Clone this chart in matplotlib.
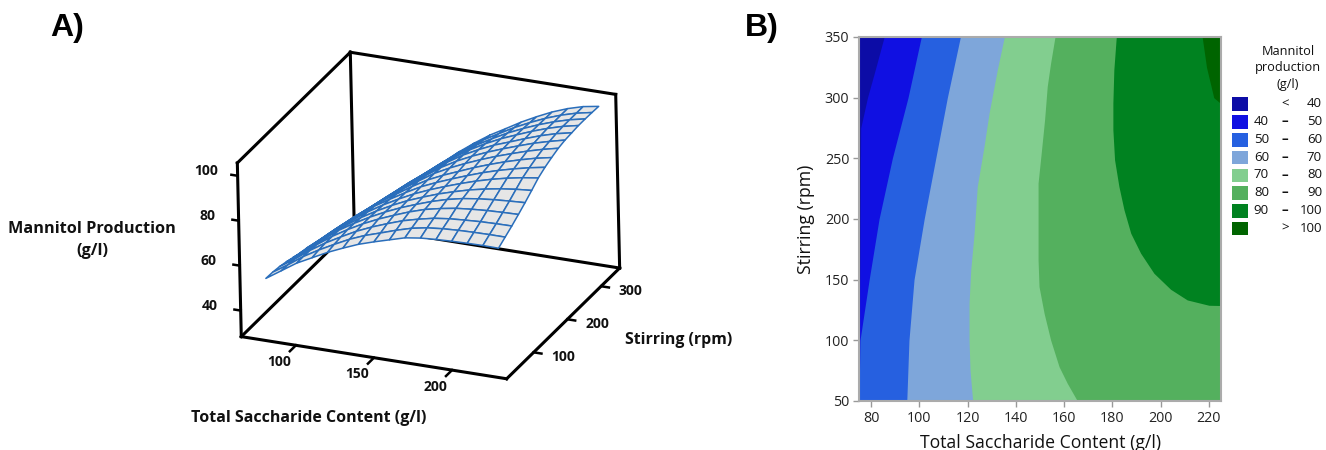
import numpy as np
import matplotlib
matplotlib.use("Agg")
import matplotlib.pyplot as plt
from matplotlib.patches import Rectangle
from mpl_toolkits.mplot3d import proj3d

W, H = 1326, 450

# --- panel A: response surface ---
sacch = [75, 85, 95, 105, 115, 125, 135, 145, 155, 165, 175, 185, 195, 205, 215, 225]
stir = [50, 70, 90, 110, 130, 150, 170, 190, 210, 230, 250, 270, 290, 310, 330, 350]
prod_50 = [51, 55.5, 60, 63.5, 67, 70, 72.8, 75, 77, 79, 80, 80.5, 80.8, 81, 81.1, 81]
prod_70 = [50.8, 55.2, 60, 64, 67.6, 71, 73.8, 76, 78.3, 80.3, 81.6, 82.3, 82.7, 82.9, 83, 83]
prod_90 = [50.3, 54.8, 59.8, 64.2, 68, 71.6, 74.6, 77.2, 79.6, 81.4, 82.9, 83.8, 84.3, 84.7, 84.9, 85]
prod_110 = [49.5, 54.2, 59.4, 64.2, 68.3, 72, 75.2, 78, 80.6, 82.8, 84.3, 85.5, 86.2, 86.7, 87, 87.2]
prod_130 = [48.5, 53.6, 58.8, 64, 68.2, 72, 75.4, 78.4, 81, 83.4, 85.4, 86.9, 87.9, 88.6, 89.1, 89.5]
prod_150 = [47.5, 52.9, 58, 63.2, 67.8, 71.8, 75.4, 78.6, 81.3, 83.8, 85.9, 87.8, 89.3, 90.5, 91.4, 92]
prod_170 = [46.8, 52.2, 57.4, 62.6, 67.4, 71.6, 75.3, 78.7, 81.6, 84.2, 86.6, 88.8, 90.7, 92.3, 93.6, 94.6]
prod_190 = [45.7, 51.4, 56.8, 62, 67, 71.2, 75.2, 78.9, 81.9, 84.6, 87.2, 89.6, 91.7, 93.5, 95.1, 96.4]
prod_210 = [44.6, 50.5, 56, 61.2, 66.2, 70.6, 75, 79, 82.2, 85, 87.8, 90.3, 92.6, 94.6, 96.4, 97.8]
prod_230 = [43.5, 49.5, 55, 60.2, 65.4, 70, 74.6, 79, 82.5, 85.6, 88.4, 91, 93.3, 95.5, 97.4, 99]
prod_250 = [42, 48, 53.8, 59.2, 64.5, 69.2, 74, 78.7, 82.6, 85.9, 88.8, 91.4, 93.8, 96.1, 98, 99.7]
prod_270 = [40.7, 46.8, 52.6, 58.2, 63.6, 68.4, 73.2, 78.2, 82.4, 85.9, 89, 91.5, 94.1, 96.5, 98.5, 100]
prod_290 = [39.5, 45.5, 51.2, 57, 62.6, 67.6, 72.4, 77.4, 81.8, 85.6, 88.9, 91.7, 94.4, 96.8, 98.8, 100.3]
prod_310 = [38, 44, 50, 55.8, 61.4, 66.6, 71.6, 76.6, 81, 84.9, 88.5, 91.6, 94.4, 96.8, 98.8, 100.3]
prod_330 = [37, 42.3, 48.4, 54.5, 60.2, 65.6, 70.8, 75.8, 80.3, 84.2, 88, 91.3, 94.3, 96.8, 98.8, 100.2]
prod_350 = [35.5, 40.3, 46.5, 53, 59, 64.5, 70, 75, 79.6, 83.5, 87.5, 91, 94.2, 96.8, 98.8, 100]
prod_rows = [prod_50, prod_70, prod_90, prod_110, prod_130, prod_150, prod_170, prod_190,
             prod_210, prod_230, prod_250, prod_270, prod_290, prod_310, prod_330, prod_350]

x_ticks_a = [100, 150, 200]
y_ticks_a = [100, 200, 300]
z_ticks_a = [40, 60, 80, 100]

# --- panel B: contour boundaries as (stirring, saccharide) ---
b40_y = [50, 275, 300, 325, 350]
b40_x = [75, 75.7, 78.5, 82, 85.4]
b50_y = [50, 100, 150, 200, 250, 300, 350]
b50_x = [75, 75.4, 79.2, 83.3, 88.8, 95.3, 100.8]
b60_y = [50, 100, 150, 200, 250, 300, 350]
b60_x = [94.8, 95.7, 97.8, 102, 106.8, 111.6, 117]
b70_y = [50, 75.6, 100.3, 130.6, 158.1, 188.3, 226.8, 259.8, 287.3, 323, 350]
b70_x = [122.1, 121, 120.6, 120.6, 121.3, 122.7, 124, 126.8, 128.9, 132.3, 135.2]
b80_y = [50, 64.6, 78.3, 100.3, 122.3, 144.3, 166.3, 199.3, 229.6, 254.3, 281.8, 309.3, 328.6, 350]
b80_x = [165.5, 161.3, 157.9, 154.4, 151.7, 149.6, 149.2, 149.2, 149.2, 150.5, 151.9, 153, 154.4, 156.2]
b90_y = [128.7, 128.9, 133.3, 142.1, 155.3, 171.8, 188.3, 207.6, 226.8, 248.8, 273.6, 295.6, 323, 350]
b90_x = [225, 220, 211, 204.1, 197.2, 191.7, 187.6, 184.8, 182.7, 180.9, 180.2, 180.2, 180.6, 181.6]
b100_y = [295, 300, 325, 350]
b100_x = [225, 222, 219, 217.2]
boundaries = [(b40_y, b40_x), (b50_y, b50_x), (b60_y, b60_x), (b70_y, b70_x),
              (b80_y, b80_x), (b90_y, b90_x), (b100_y, b100_x)]

band_colors = ["#0c0ca6", "#1010e2", "#2660e0", "#7ea6da", "#82ce8f", "#54b05e", "#008220", "#006400"]
legend_low = ["", "40", "50", "60", "70", "80", "90", ""]
legend_sep = ["<", "–", "–", "–", "–", "–", "–", ">"]
legend_high = ["40", "50", "60", "70", "80", "90", "100", "100"]

x_ticks_b = [80, 100, 120, 140, 160, 180, 200, 220]
y_ticks_b = [50, 100, 150, 200, 250, 300, 350]


def fx(px):
    return px / W


def fy(py):
    return 1 - py / H


fig = plt.figure(figsize=(W / 100, H / 100), dpi=100)
plt.rcParams["font.family"] = ["Open Sans", "DejaVu Sans"]

# 3D panel: nearly orthographic box, camera worked out from the box edges
x0, x1 = 65, 235
y0, y1 = 20, 355
z0, z1 = 28.4, 105.7
side = 436
ax3 = fig.add_axes([204.6 / W, 10.6 / H, side / W, side / H], projection="3d", computed_zorder=False)
ax3.set_proj_type("ortho")
ax3.view_init(elev=24.4, azim=-66.2, roll=1.3)
ax3.set_box_aspect((1.515, 1.50, 1))
ax3.set_xlim(x0, x1, view_margin=0)
ax3.set_ylim(y0, y1, view_margin=0)
ax3.set_zlim(z0, z1, view_margin=0)
ax3.set_axis_off()
ax3.patch.set_alpha(0)

edge = dict(color="black", lw=2.2, solid_capstyle="projecting", zorder=1)
ax3.plot([x0, x1], [y0, y0], [z0, z0], **edge)
ax3.plot([x0, x1], [y1, y1], [z0, z0], **edge)
ax3.plot([x0, x0], [y0, y1], [z0, z0], **edge)
ax3.plot([x1, x1], [y0, y1], [z0, z0], **edge)
ax3.plot([x0, x0], [y0, y0], [z0, z1], **edge)
ax3.plot([x0, x0], [y1, y1], [z0, z1], **edge)
ax3.plot([x1, x1], [y1, y1], [z0, z1], **edge)
ax3.plot([x0, x0], [y0, y1], [z1, z1], **edge)
ax3.plot([x0, x1], [y1, y1], [z1, z1], **edge)

M = ax3.get_proj()
label_a = dict(fontsize=10, fontweight="bold", ha="center", va="center", color="#111111",
               transform=ax3.transData)


def label3d(x, y, z, s):
    # place the tick label through the 3D projection as plain 2D text
    xp, yp, _ = proj3d.proj_transform(x, y, z, M)
    ax3.text2D(xp, yp, s, **label_a)


tick = dict(color="black", lw=1.8, zorder=1)
for t in x_ticks_a:
    ax3.plot([t, t], [y0, y0 - 18], [z0, z0], **tick)
    label3d(t, y0 - 50, z0, str(t))
for t in y_ticks_a:
    ax3.plot([x1, x1 + 5], [t, t], [z0, z0], **tick)
    label3d(x1 + 19, t, z0, str(t))
for t in z_ticks_a:
    ax3.plot([x0, x0 - 4], [y0, y0], [t, t], **tick)
    label3d(x0 - 20, y0, t, str(t))

X, Y = np.meshgrid(sacch, stir)
Z = np.array(prod_rows)
ax3.plot_surface(X, Y, Z, rstride=1, cstride=1, color="#e6e6e6", edgecolor="#2a6ebb",
                 linewidth=1.1, shade=False, antialiased=True, zorder=2)

fig.text(fx(92), fy(240), "Mannitol Production\n(g/l)", fontsize=11.7, fontweight="bold", ha="center",
         va="center", linespacing=1.45, color="#111111")
fig.text(fx(309), fy(418), "Total Saccharide Content (g/l)", fontsize=11.5, fontweight="bold", ha="center",
         va="center", color="#111111")
fig.text(fx(679), fy(340), "Stirring (rpm)", fontsize=11.4, fontweight="bold", ha="center", va="center",
         color="#111111")
fig.text(fx(67), fy(28), "A)", fontsize=23, fontweight="bold", family="Liberation Sans", ha="center", va="center")
fig.text(fx(761.5), fy(28), "B)", fontsize=23, fontweight="bold", family="Liberation Sans", ha="center", va="center")

# contour panel: paint each band from its lower boundary to the right edge
axb = fig.add_axes([859 / W, (H - 401) / H, 362 / W, 364 / H])
axb.set_xlim(75, 225)
axb.set_ylim(50, 350)
axb.set_facecolor(band_colors[0])
for (by, bx), col in zip(boundaries, band_colors[1:]):
    axb.fill_betweenx(by, bx, 225, color=col, lw=0)
for s in axb.spines.values():
    s.set_color("#ababab")
    s.set_linewidth(1.5)
axb.set_xticks(x_ticks_b)
axb.set_yticks(y_ticks_b)
axb.tick_params(colors="#222222", labelsize=10.3, length=4, width=1, color="#999999", pad=3)
axb.set_xlabel("Total Saccharide Content (g/l)", fontsize=12.7, labelpad=6, color="#111111")
axb.set_ylabel("Stirring (rpm)", fontsize=12.7, labelpad=7, color="#111111")

# legend
fig.text(fx(1288), fy(68), "Mannitol\nproduction\n(g/l)", fontsize=9.2, ha="center", va="center",
         linespacing=1.35, color="#111111")
for i in range(len(band_colors)):
    top = 97.5 + i * 17.75
    fig.add_artist(Rectangle((fx(1232), fy(top + 13.5)), 15.5 / W, 13.5 / H, transform=fig.transFigure,
                             facecolor=band_colors[i], edgecolor="none"))
    cy = top + 6.5
    if legend_low[i]:
        fig.text(fx(1269), fy(cy), legend_low[i], fontsize=9.5, ha="right", va="center", color="#111111")
    fig.text(fx(1285), fy(cy), legend_sep[i], fontsize=9.5, fontweight="bold" if legend_sep[i] == "–" else "normal",
             ha="center", va="center", color="#111111")
    fig.text(fx(1322), fy(cy), legend_high[i], fontsize=9.5, ha="right", va="center", color="#111111")

fig.savefig("out.png", dpi=100)
